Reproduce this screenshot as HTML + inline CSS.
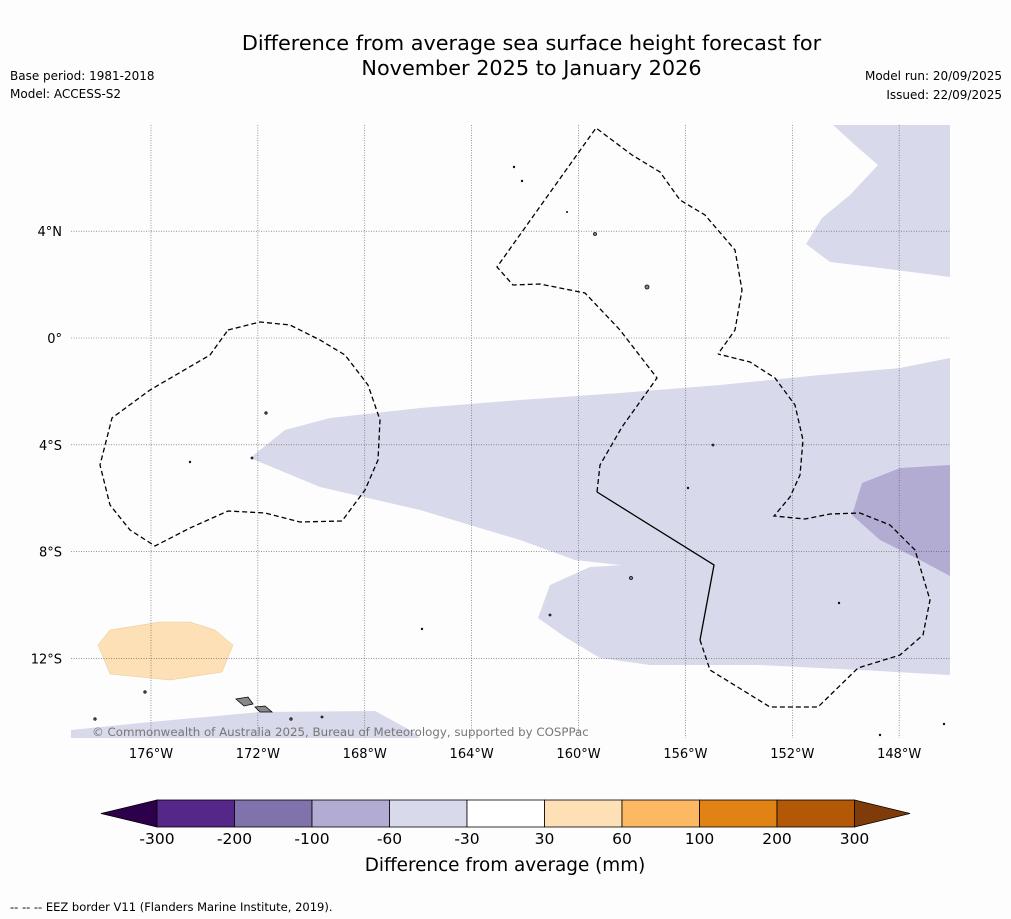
<!DOCTYPE html>
<html><head><meta charset="utf-8"><style>
body{margin:0;background:#fdfdfd;font-family:"DejaVu Sans",sans-serif;}
#wrap{position:relative;width:1011px;height:919px;overflow:hidden;background:#fdfdfd}
.t{position:absolute;white-space:nowrap;color:#000}
</style></head><body>
<div id="wrap">
<div class="t" style="left:0;width:1063px;top:31px;text-align:center;font-size:20.8px;line-height:24.5px">Difference from average sea surface height forecast for<br>November 2025 to January 2026</div>
<div class="t" style="left:10px;top:69px;font-size:12px">Base period: 1981-2018</div>
<div class="t" style="left:10px;top:87px;font-size:12px">Model: ACCESS-S2</div>
<div class="t" style="right:9px;top:69px;font-size:12px">Model run: 20/09/2025</div>
<div class="t" style="right:9px;top:88px;font-size:12px">Issued: 22/09/2025</div>
<svg id="map" width="1011" height="919" style="position:absolute;left:0;top:0">
<g>
<path fill="#d8daeb" d="M250,458 L285,430 L330,418 L420,408 L520,400 L620,393 L720,385 L820,375 L900,368 L950,358 L950,675 L860,670 L760,665 L650,665 L600,658 L565,637 L538,618 L550,585 L590,567 L640,564 L672,564 L620,565 L575,560 L520,540 L420,510 L320,487 Z"/>
<path fill="#b2abd2" d="M950,465 L900,468 L862,483 L852,515 L880,540 L920,560 L950,576 Z"/>
<path fill="#d8daeb" d="M833,125 L855,145 L878,165 L850,195 L822,218 L806,244 L830,262 L880,268 L950,277 L950,125 Z"/>
<path fill="#d8daeb" d="M71,738 L71,730 L150,722 L260,712 L375,711 L410,730 L420,738 Z"/>
<path fill="#fee0b6" stroke="#e8c79a" stroke-width="0.5" d="M98,645 L110,630 L160,622 L190,622 L215,630 L233,645 L222,672 L170,680 L110,674 Z"/>
</g>
<g id="grid"></g>
<g fill="none" stroke="#000" stroke-width="1.3">
<path stroke-dasharray="5,3" d="M228,330 L260,322 L290,325 L320,340 L345,355 L368,385 L380,420 L378,460 L365,490 L342,521 L300,522 L265,513 L228,511 L190,528 L155,546 L130,530 L110,505 L100,465 L112,418 L150,390 L210,355 Z"/>
<path stroke-dasharray="5,3" d="M597,492 L600,465 L622,427 L657,378 L620,330 L585,293 L540,284 L513,285 L497,267 L596,128 L632,155 L660,172 L680,200 L705,215 L735,250 L742,290 L735,330 L718,354"/>
<path d="M597,492 L714,565 L700,640"/>
<path stroke-dasharray="5,3" d="M700,640 L710,670 L770,707 L818,707 L858,668 L900,655 L923,635 L930,600 L915,550 L890,525 L860,513 L830,514 L805,519 L774,516 L790,497 L800,475 L803,440 L795,405 L775,378 L750,362 L718,354"/>
</g>
<g fill="#888" stroke="#000" stroke-width="0.8">
<path d="M236,699 L248,697 L253,704 L244,706 Z"/><path d="M255,707 L265,706 L272,712 L260,712 Z"/>
<circle cx="266" cy="413" r="1.2"/><circle cx="252" cy="458" r="1"/><circle cx="595" cy="234" r="1.5"/><circle cx="647" cy="287" r="2"/><circle cx="713" cy="445" r="1"/><circle cx="631" cy="578" r="1.5"/><circle cx="550" cy="615" r="1"/><circle cx="145" cy="692" r="1.2"/><circle cx="95" cy="719" r="1.2"/><circle cx="291" cy="719" r="1.2"/><circle cx="322" cy="717" r="1"/><circle cx="422" cy="629" r="0.8"/><circle cx="514" cy="167" r="0.8"/><circle cx="522" cy="181" r="0.8"/><circle cx="567" cy="212" r="0.6"/><circle cx="190" cy="462" r="0.8"/><circle cx="688" cy="488" r="0.8"/><circle cx="839" cy="603" r="0.8"/><circle cx="880" cy="735" r="0.8"/><circle cx="944" cy="724" r="0.8"/>
</g>
<text x="92" y="736" font-size="11.8" fill="#777" font-family="DejaVu Sans, sans-serif">© Commonwealth of Australia 2025, Bureau of Meteorology, supported by COSPPac</text>
<g id="axes" font-size="13" font-family="DejaVu Sans, sans-serif"></g>
<g id="cbar"></g>
<text x="505" y="871" text-anchor="middle" font-size="18.4" font-family="DejaVu Sans, sans-serif">Difference from average (mm)</text>
<text x="10" y="911" font-size="11.5" font-family="DejaVu Sans, sans-serif">--  --  -- EEZ border V11 (Flanders Marine Institute, 2019).</text>
</svg>
</div>
<script>
const lonTicks=[-176,-172,-168,-164,-160,-156,-152,-148];
const latTicks=[4,0,-4,-8,-12];
const cbarBounds=[-300,-200,-100,-60,-30,30,60,100,200,300];
const cbarColors=["#542788","#8073ac","#b2abd2","#d8daeb","#ffffff","#fee0b6","#fdb863","#e08214","#b35806"];
const NS="http://www.w3.org/2000/svg";
const lonX=l=>151+(l+176)*26.72;
const latY=l=>338-l*26.7;
function mk(t,a,p){const e=document.createElementNS(NS,t);for(const k in a)e.setAttribute(k,a[k]);p.appendChild(e);return e;}
const grid=document.getElementById('grid'),axes=document.getElementById('axes'),cb=document.getElementById('cbar');
lonTicks.forEach(l=>{const x=lonX(l);
const g=mk('line',{x1:x,x2:x,y1:125,y2:738,stroke:'#555','stroke-width':0.6,'stroke-dasharray':'1,1.5'},grid);


const t=mk('text',{x:x,y:758,'text-anchor':'middle'},axes);t.textContent=Math.abs(l)+'°W';

});
latTicks.forEach(l=>{const y=latY(l);
const g=mk('line',{x1:71,x2:950,y1:y,y2:y,stroke:'#555','stroke-width':0.6,'stroke-dasharray':'1,1.5'},grid);


const t=mk('text',{x:62,y:y+5,'text-anchor':'end'},axes);t.textContent=l===0?'0°':Math.abs(l)+'°'+(l>0?'N':'S');

});
const cx0=157,cw=77.5,cy=800,ch=27;
const lt=mk('path',{d:`M${cx0},${cy} L101,${cy+ch/2} L${cx0},${cy+ch} Z`,fill:'#2d004b',stroke:'#000','stroke-width':0.8},cb);


const xe=cx0+cw*cbarColors.length;
const rt=mk('path',{d:`M${xe},${cy} L910,${cy+ch/2} L${xe},${cy+ch} Z`,fill:'#7f3b08',stroke:'#000','stroke-width':0.8},cb);


cbarColors.forEach((c,i)=>{const r=mk('rect',{x:cx0+i*cw,y:cy,width:cw,height:ch,fill:c,stroke:'#000','stroke-width':0.8},cb);

});
cbarBounds.forEach((b,i)=>{const t=mk('text',{x:cx0+i*cw,y:844,'text-anchor':'middle','font-size':15.5,'font-family':'DejaVu Sans, sans-serif'},cb);t.textContent=b;

});
</script>
</body></html>
